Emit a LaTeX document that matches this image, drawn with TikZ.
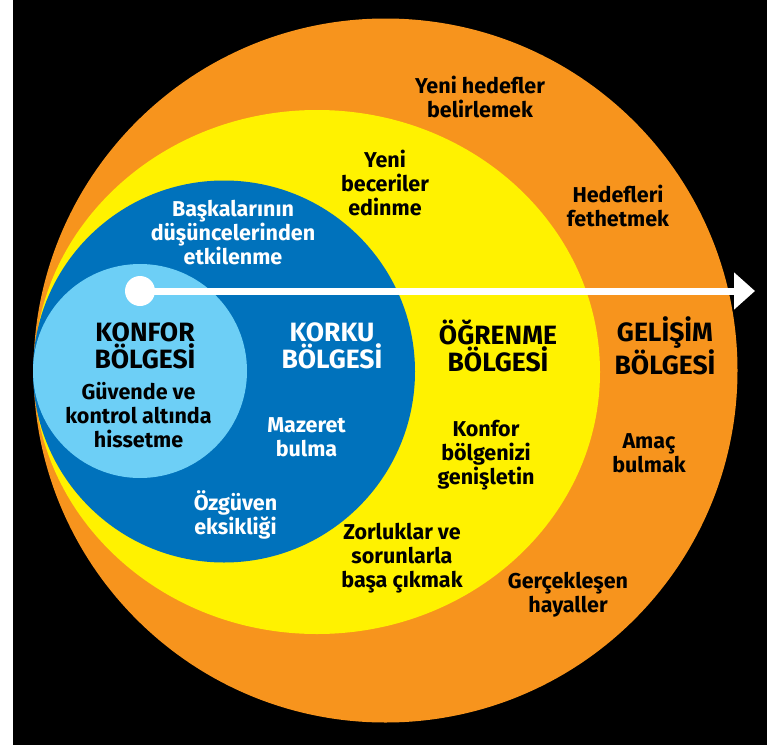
\documentclass[tikz,border=0pt]{standalone}
\usepackage{fontspec}
\setmainfont{Fira Sans}
\usetikzlibrary{arrows.meta}
\definecolor{gelisim}{HTML}{F7941D}
\definecolor{ogrenme}{HTML}{FFF200}
\definecolor{korku}{HTML}{0072BC}
\definecolor{konfor}{HTML}{6DCFF6}

\begin{document}
\begin{tikzpicture}[x=1pt, y=-1pt,
  small/.style={align=center, inner sep=0pt, font=\bfseries\fontsize{21.5}{24}\selectfont},
  big/.style={align=center, inner sep=0pt, font=\bfseries\fontsize{26.5}{26.5}\selectfont}]
\fill[white] (0,0) rectangle (782,747);
\fill[black] (13,0) rectangle (767,745);

% zones
\fill[gelisim] (385.5,370.5) circle (352);
\fill[ogrenme] (317,372) ellipse (283 and 262);
\fill[korku] (224,371.5) circle (191);
\fill[konfor] (140,371) circle (107);

% arrow
\node (dot) at (140,291) [circle, fill=white, minimum size=30pt, inner sep=0pt] {};
\coordinate (tip) at (755,291);
\draw[white, line width=7pt, -{Triangle[width=36pt, length=21pt]}] (dot.center) -- (tip);

% zone names
\node (konfor) at (145,346) [big] {KONFOR\\BÖLGESİ};
\node (korku) at (332,346) [big, white] {KORKU\\BÖLGESİ};
\node (ogrenme) at (498,346) [big] {ÖĞRENME\\BÖLGESİ};
\node (gelisim) at (665,346) [big] {GELİŞİM\\BÖLGESİ};

% texts
\node (guvende) at (138.5,415) [small] {Güvende ve\\kontrol altında\\hissetme};
\node (baskalari) at (233,233) [small, white] {Başkalarının\\düşüncelerinden\\etkilenme};
\node (mazeret) at (306.5,437) [small, white] {Mazeret\\bulma};
\node (ozguven) at (235.5,515) [small, white] {Özgüven\\eksikliği};
\node (beceri) at (385,183) [small] {Yeni\\beceriler\\edinme};
\node (genislet) at (486,455) [small] {Konfor\\bölgenizi\\genişletin};
\node (zorluk) at (402,558) [small] {Zorluklar ve\\sorunlarla\\başa çıkmak};
\node (hedef) at (480,97) [small] {Yeni hedefler\\belirlemek};
\node (fethet) at (618,205.5) [small] {Hedefleri\\fethetmek};
\node (amac) at (649,453.5) [small] {Amaç\\bulmak};
\node (hayal) at (568,595) [small] {Gerçekleşen\\hayaller};
\end{tikzpicture}
\end{document}
